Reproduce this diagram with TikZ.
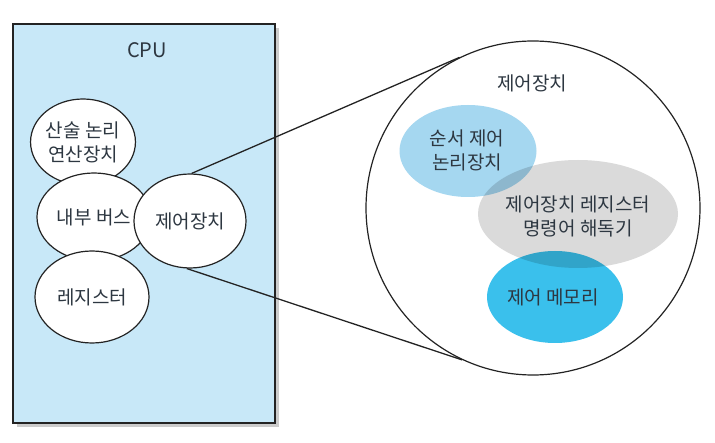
\documentclass[tikz,border=0pt]{standalone}
\usepackage{fontspec}
\setmainfont{Noto Sans CJK KR}
\usetikzlibrary{positioning, shapes.geometric}
\definecolor{ccpu}{RGB}{200,232,248}
\definecolor{cline}{RGB}{35,35,35}
\definecolor{ctext}{RGB}{45,55,65}
\definecolor{cseq}{RGB}{165,215,240}
\definecolor{creg}{RGB}{218,218,218}
\definecolor{cmem}{RGB}{58,192,236}

\begin{document}
\begin{tikzpicture}[x=1pt, y=-1pt, font=\fontsize{19}{24}\selectfont, text=ctext,
    unit/.style={draw=cline, line width=1.2pt, fill=white, ellipse, inner sep=0pt, align=center},
    part/.style={ellipse, inner sep=0pt, align=center}]
  \useasboundingbox (0,0) rectangle (715,443);

  % CPU box with shadow
  \fill[gray!40] (17,28) rectangle (279,427);
  \node[draw=cline, line width=1.2pt, fill=ccpu, minimum width=262pt, minimum height=399pt,
        inner sep=0pt] (cpu) at (144,223.5) {};
  \node[font=\fontsize{20}{24}\selectfont] (cpulabel) at (147,50) {CPU};

  \node[unit, minimum width=95pt, minimum height=86pt] (alu) at (83,142) {산술 논리\\연산장치};
  \node[unit, minimum width=114pt, minimum height=88pt] (bus) at (94,217) {내부 버스};
  \node[unit, minimum width=114pt, minimum height=92pt] (reg) at (92,297) {레지스터};
  \node[unit, minimum width=112pt, minimum height=94pt] (ctrl) at (190,221) {제어장치};

  % zoom view of the control unit
  \node[draw=cline, line width=1.2pt, fill=white, circle, minimum size=334pt, inner sep=0pt] (zoom) at (533,208) {};
  \draw[cline, line width=1.3pt] (ctrl.88) -- (zoom.116);
  \draw[cline, line width=1.3pt] (ctrl.266) -- (zoom.245);
  \node (zlabel) at (532,83) {제어장치};

  \begin{scope}[blend group=multiply]
    \node[part, fill=cseq, minimum width=137pt, minimum height=92pt] (seq) at (468,151) {};
    \node[part, fill=creg, minimum width=200pt, minimum height=108pt] (cregs) at (578,214) {};
    \node[part, fill=cmem, minimum width=136pt, minimum height=92pt] (cmems) at (555,297) {};
  \end{scope}
  \node[align=center] (seqtext) at (467,150) {순서 제어\\논리장치};
  \node[align=center] (cregtext) at (578,216) {제어장치 레지스터\\명령어 해독기};
  \node (cmemtext) at (553,297) {제어 메모리};
\end{tikzpicture}
\end{document}
